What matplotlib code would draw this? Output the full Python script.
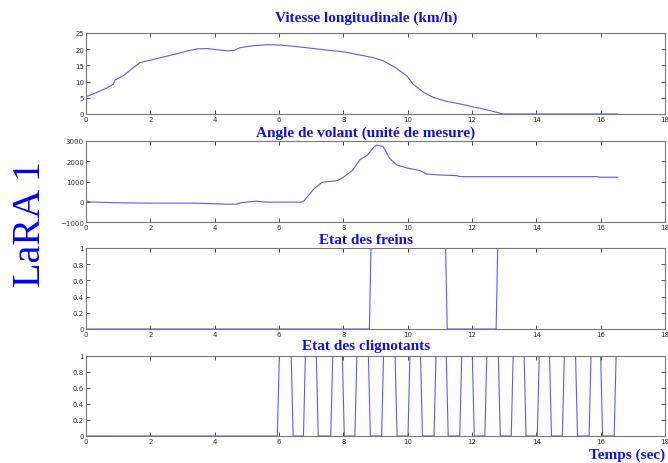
import matplotlib
matplotlib.use("Agg")
import matplotlib.pyplot as plt
import numpy as np

# ---- data ----
speed_t = [0.0, 0.23, 0.64, 0.85, 0.9, 1.16, 1.42, 1.68, 2.0, 2.32, 2.74, 3.16, 3.47, 3.78,
           4.0, 4.4, 4.6, 4.8, 5.22, 5.63, 6.0, 6.46, 7.08, 7.5, 8.0, 8.52, 8.93, 9.24,
           9.61, 9.97, 10.17, 10.49, 10.8, 11.21, 11.63, 12.04, 12.46, 12.97, 14.0, 15.0, 16.53]
speed_v = [5.3, 6.2, 8.0, 9.2, 10.5, 11.8, 13.9, 15.9, 16.6, 17.4, 18.4, 19.5, 20.1, 20.2,
           19.9, 19.5, 19.6, 20.5, 21.1, 21.4, 21.3, 20.9, 20.2, 19.7, 19.2, 18.2, 17.4, 16.4,
           14.4, 11.8, 9.2, 6.7, 5.1, 3.9, 3.1, 2.2, 1.3, 0.0, 0.0, 0.0, 0.0]

angle_t = [0.0, 0.05, 0.15, 0.95, 2.0, 3.37, 4.0, 4.37, 4.68, 4.84, 5.3, 5.6, 6.0, 6.66, 6.77,
           7.08, 7.34, 7.5, 7.81, 8.0, 8.28, 8.52, 8.74, 8.95, 9.04, 9.24, 9.45, 9.66, 9.97,
           10.38, 10.59, 11.0, 11.52, 11.63, 13.08, 15.88, 15.98, 16.53]
angle_v = [30, 20, -10, -50, -70, -70, -100, -120, -120, -40, 30, -20, -20, -20, 30,
           630, 960, 990, 1040, 1210, 1540, 2080, 2290, 2700, 2800, 2720, 2120, 1820, 1670,
           1540, 1370, 1320, 1290, 1240, 1240, 1240, 1210, 1210]

# brake state: (time, value) transitions
brake_t = [0.0, 8.81, 8.86, 11.18, 11.23, 12.75, 12.80, 16.53]
brake_v = [0, 0, 1, 1, 0, 0, 1, 1]

# turn-signal switching times (alternating on/off starting with "on")
blink_switch = [5.98, 6.41, 6.79, 7.19, 7.64, 8.0, 8.39, 8.81, 9.22, 9.64, 10.04, 10.43,
                10.85, 11.23, 11.65, 12.04, 12.43, 12.85, 13.25, 13.65, 14.06, 14.44,
                14.84, 15.25, 15.67, 16.03, 16.45]
blink_end = 16.53

titles = ["Vitesse longitudinale (km/h)", "Angle de volant (unité de mesure)",
          "Etat des freins", "Etat des clignotants"]
xticks = [0, 2, 4, 6, 8, 10, 12, 14, 16, 18]
yticks_speed = [0, 5, 10, 15, 20, 25]
yticks_angle = [-1000, 0, 1000, 2000, 3000]
yticks_state = [0, 0.2, 0.4, 0.6, 0.8, 1]
ylabels_state = ["0", "0.2", "0.4", "0.6", "0.8", "1"]

# build blinker step series
bt = [0.0]
bv = [0]
state = 0
for s in blink_switch:
    bt += [s - 0.03, s + 0.03]
    bv += [state, 1 - state]
    state = 1 - state
bt.append(blink_end)
bv.append(state)

W, H = 668, 464
fig = plt.figure(figsize=(W / 100, H / 100), dpi=100)
line_col = "#5a5aff"
title_col = "#1010ee"

rects = [(34, 115), (142, 223), (249, 330), (357, 437)]
title_y = [18, 133, 241, 347]
axes = []
for top, bot in rects:
    ax = fig.add_axes([86 / W, 1 - bot / H, (665 - 86) / W, (bot - top) / H])
    axes.append(ax)

axes[0].plot(speed_t, speed_v, color=line_col, lw=0.8)
axes[0].set_ylim(0, 25)
axes[0].set_yticks(yticks_speed)

axes[1].plot(angle_t, angle_v, color=line_col, lw=0.8)
axes[1].set_ylim(-1000, 3000)
axes[1].set_yticks(yticks_angle)

axes[2].plot(brake_t, brake_v, color=line_col, lw=0.8)
axes[3].plot(bt, bv, color=line_col, lw=0.8)
for ax in axes[2:]:
    ax.set_ylim(0, 1)
    ax.set_yticks(yticks_state)
    ax.set_yticklabels(ylabels_state)

for ax, t, ty in zip(axes, titles, title_y):
    ax.set_xlim(0, 18)
    ax.set_xticks(xticks)
    ax.tick_params(direction="in", length=3, width=0.6, labelsize=5, colors="#333333",
                   top=True, right=True, pad=1.5)
    for sp in ax.spines.values():
        sp.set_color("#777777")
        sp.set_linewidth(0.8)
    fig.text(366 / W, 1 - ty / H, t, ha="center", va="center",
             family="Liberation Serif", weight="bold", fontsize=11, color=title_col)

fig.text(665 / W, 1 - 455 / H, "Temps (sec)", ha="right", va="center",
         family="Liberation Serif", weight="bold", fontsize=11, color=title_col)
fig.text(30 / W, 1 - 224 / H, "LaRA 1", ha="center", va="center", rotation=90,
         family="Liberation Serif", fontsize=29, color="#0000ff")

fig.savefig("out.png", dpi=100)
